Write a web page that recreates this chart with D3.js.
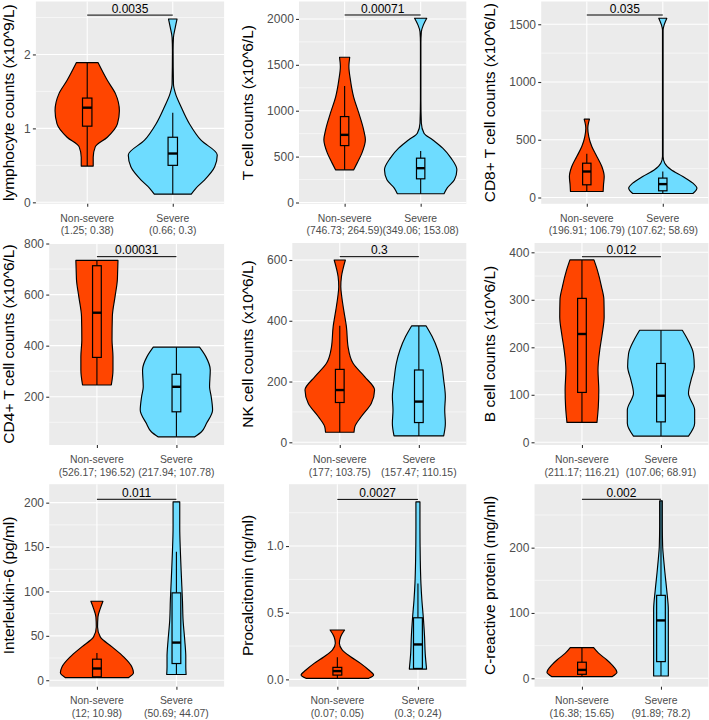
<!DOCTYPE html>
<html><head><meta charset="utf-8">
<script src="https://cdn.jsdelivr.net/npm/d3@7"></script>
<style>
body{margin:0;background:#fff}
svg{display:block}
text{font-family:"Liberation Sans",Arial,Helvetica,sans-serif}
</style>
</head><body>
<svg id="chart" width="709" height="720"></svg>
<script>
// ---------------- data ----------------
const groups = ["Non-severe", "Severe"];
const groupColors = ["#FF4500", "#6EDCFF"];

const yTitles = [
  "lymphocyte counts (x10^9/L)",
  "T cell counts (x10^6/L)",
  "CD8+ T cell counts (x10^6/L)",
  "CD4+ T cell counts (x10^6/L)",
  "NK cell counts (x10^6/L)",
  "B cell counts (x10^6/L)",
  "Interleukin-6 (pg/ml)",
  "Procalcitonin (ng/ml)",
  "C-reactive protein (mg/ml)"
];

const pValues = ["0.0035", "0.00071", "0.035", "0.00031", "0.3", "0.012", "0.011", "0.0027", "0.002"];

const nonSevereStats = ["(1.25; 0.38)", "(746.73; 264.59)", "(196.91; 106.79)", "(526.17; 196.52)", "(177; 103.75)", "(211.17; 116.21)", "(12; 10.98)", "(0.07; 0.05)", "(16.38; 15.65)"];
const severeStats = ["(0.66; 0.3)", "(349.06; 153.08)", "(107.62; 58.69)", "(217.94; 107.78)", "(157.47; 110.15)", "(107.06; 68.91)", "(50.69; 44.07)", "(0.3; 0.24)", "(91.89; 78.2)"];

const yTicks = [
  [0, 1, 2],
  [0, 500, 1000, 1500, 2000],
  [0, 500, 1000, 1500],
  [200, 400, 600, 800],
  [0, 200, 400, 600],
  [0, 100, 200, 300, 400],
  [0, 50, 100, 150, 200],
  [0, 0.5, 1.0],
  [0, 100, 200]
];

const yLimits = [
  [-0.02, 2.716], [-14.2, 2190], [-54.5, 1697],
  [11, 802], [-8.9, 656], [-5.7, 419.6],
  [-7.3, 220.8], [-0.055, 1.464], [-12.9, 297.2]
];

const bracketY = [2.532, 2043, 1580, 748.5, 611, 390.7, 203.8, 1.35, 274.1];

// violin outlines: [value, half-width in category units], top to bottom
const nonSevereViolins = [
  [[1.89,0.126],[1.65,0.235],[1.47,0.33],[1.24,0.376],[1.06,0.353],[0.88,0.235],[0.75,0.094],[0.61,0.07],[0.49,0.07]],
  [[1583,0.067],[1481,0.056],[1336,0.076],[1154,0.117],[973,0.187],[792,0.25],[683,0.273],[538,0.227],[429,0.164],[356,0.12]],
  [[678,0.035],[600,0.013],[528,0.026],[441,0.066],[355,0.132],[268,0.198],[182,0.229],[110,0.22],[52,0.215]],
  [[734,0.265],[684,0.26],[657,0.257],[592,0.228],[514,0.194],[422,0.19],[357,0.202],[305,0.202],[246,0.181]],
  [[600,0.071],[572,0.042],[545,0.021],[512,0.013],[479,0.025],[435,0.05],[380,0.084],[314,0.105],[260,0.168],[216,0.314],[172,0.44],[128,0.398],[84,0.27],[51,0.19],[33,0.18]],
  [[384,0.152],[363,0.194],[328,0.247],[300,0.278],[264,0.281],[229,0.257],[194,0.225],[152,0.203],[110,0.213],[75,0.207],[42,0.19]],
  [[89,0.076],[80.7,0.042],[71.4,0.013],[60,0.008],[48.8,0.042],[37.6,0.19],[26.3,0.336],[15,0.44],[8.3,0.46],[3,0.4]],
  [[0.37,0.09],[0.32,0.041],[0.27,0.025],[0.22,0.062],[0.17,0.165],[0.12,0.288],[0.07,0.39],[0.032,0.45],[0.008,0.39]],
  [[47,0.148],[38.5,0.21],[28,0.316],[17.8,0.4],[9.2,0.443],[2.5,0.38]]
];
const severeViolins = [
  [[2.48,0.05],[2.37,0.03],[2.23,0.008],[2.05,0.004],[1.6,0.008],[1.47,0.032],[1.29,0.098],[1.06,0.196],[0.84,0.33],[0.64,0.52],[0.48,0.49],[0.3,0.37],[0.19,0.27],[0.11,0.216]],
  [[2007,0.08],[1935,0.036],[1862,0.009],[1735,0.003],[1118,0.003],[864,0.009],[755,0.044],[683,0.156],[592,0.29],[483,0.4],[356,0.476],[247,0.444],[157,0.347],[95,0.307]],
  [[1552,0.053],[1494,0.018],[1451,0.004],[355,0.004],[297,0.026],[240,0.11],[182,0.264],[124,0.396],[81,0.449],[35,0.396]],
  [[394,0.291],[357,0.37],[305,0.426],[239,0.417],[200,0.438],[148,0.455],[96,0.379],[63,0.316],[43,0.232]],
  [[383,0.092],[348,0.168],[304,0.239],[260,0.285],[205,0.314],[150,0.335],[106,0.327],[63,0.335],[21,0.314]],
  [[236,0.27],[215,0.342],[187,0.41],[159,0.422],[131,0.38],[103,0.348],[68,0.426],[40,0.426],[13,0.348]],
  [[200.9,0.042],[172.7,0.042],[144.6,0.05],[116.4,0.063],[90,0.076],[67.6,0.084],[45,0.105],[26.3,0.118],[15,0.118],[6.4,0.122]],
  [[1.331,0.025],[1.144,0.025],[0.894,0.029],[0.72,0.037],[0.594,0.049],[0.469,0.066],[0.32,0.082],[0.195,0.09],[0.077,0.107]],
  [[271.7,0.017],[233,0.017],[202.5,0.021],[182,0.034],[161.5,0.05],[135.8,0.072],[105,0.093],[69,0.093],[38.5,0.093],[17.8,0.093],[3.5,0.093]]
];

// boxplot stats: [lower whisker, q1, median, q3, upper whisker]
const nonSevereBoxes = [
  [0.49, 1.03, 1.28, 1.41, 1.89],
  [356, 620, 737, 936, 1270],
  [52, 110, 225, 297, 378],
  [246, 354, 529, 713, 734],
  [33, 131, 172, 240, 384],
  [42, 105, 228, 303, 384],
  [3, 3.8, 13.2, 23.7, 30.8],
  [0.01, 0.032, 0.062, 0.09, 0.165],
  [2.5, 6.1, 12.8, 24.6, 47]
];
const severeBoxes = [
  [0.11, 0.5, 0.66, 0.88, 1.21],
  [95, 258, 374, 483, 562],
  [35, 58, 116, 168, 225],
  [43, 141, 239, 288, 394],
  [21, 65, 134, 238, 383],
  [13, 43, 98, 166, 236],
  [6.4, 18.8, 42.4, 98.4, 144.6],
  [0.077, 0.082, 0.262, 0.462, 0.72],
  [3.5, 25.5, 88.6, 127, 271.7]
];

// ---------------- layout ----------------
const rowTop = [1.5, 243, 484.2];
const rowBottom = [203.8, 445, 686.7];
const colBase = [29.2, 272.3, 514.5];
const colRight = [224.1, 466.3, 708.4];
const titleX = [13.5, 253, 494.6];
const boxHalf = 0.055;

const svg = d3.select("#chart");

function measure(str, size) {
  const t = svg.append("text").attr("font-size", size).text(str);
  const w = t.node().getComputedTextLength();
  t.remove();
  return w;
}

for (let i = 0; i < 9; i++) {
  const r = Math.floor(i / 3), c = i % 3;
  const top = rowTop[r], bottom = rowBottom[r];
  const fmt = i === 7 ? d3.format(".1f") : d3.format("d");
  const labW = d3.max(yTicks[i], t => measure(fmt(t), 12));
  const left = colBase[c] + labW, right = colRight[c];

  const y = d3.scaleLinear().domain(yLimits[i]).range([bottom, top]);
  const x = d3.scaleLinear().domain([0.4, 2.6]).range([left, right]);

  const g = svg.append("g");
  g.append("rect").attr("x", left).attr("y", top).attr("width", right - left).attr("height", bottom - top).attr("fill", "#EBEBEB");

  // minor grid
  const tk = yTicks[i], step = tk[1] - tk[0];
  const minor = [];
  for (let k = -1; k < tk.length; k++) minor.push(tk[0] + step * (k + 0.5));
  const dom = yLimits[i];
  g.selectAll(".minor").data(minor.filter(v => v > dom[0] && v < dom[1])).join("line")
    .attr("x1", left).attr("x2", right).attr("y1", d => y(d)).attr("y2", d => y(d))
    .attr("stroke", "#FFFFFF").attr("stroke-width", 0.55);
  // major grid
  g.selectAll(".major").data(tk).join("line")
    .attr("x1", left).attr("x2", right).attr("y1", d => y(d)).attr("y2", d => y(d))
    .attr("stroke", "#FFFFFF").attr("stroke-width", 1.1);
  g.selectAll(".vmajor").data([1, 2]).join("line")
    .attr("x1", d => x(d)).attr("x2", d => x(d)).attr("y1", top).attr("y2", bottom)
    .attr("stroke", "#FFFFFF").attr("stroke-width", 1.1);

  // violins and boxes
  const violins = [nonSevereViolins[i], severeViolins[i]];
  const boxes = [nonSevereBoxes[i], severeBoxes[i]];
  [0, 1].forEach(k => {
    const pos = k + 1;
    const area = d3.area().curve(d3.curveMonotoneY)
      .y(d => y(d[0])).x0(d => x(pos - d[1])).x1(d => x(pos + d[1]));
    g.append("path").attr("d", area(violins[k]))
      .attr("fill", groupColors[k]).attr("stroke", "#000").attr("stroke-width", 1.15).attr("stroke-linejoin", "round");
    const b = boxes[k];
    g.append("line").attr("x1", x(pos)).attr("x2", x(pos)).attr("y1", y(b[0])).attr("y2", y(b[1]))
      .attr("stroke", "#000").attr("stroke-width", 1.1);
    g.append("line").attr("x1", x(pos)).attr("x2", x(pos)).attr("y1", y(b[3])).attr("y2", y(b[4]))
      .attr("stroke", "#000").attr("stroke-width", 1.1);
    g.append("rect").attr("x", x(pos - boxHalf)).attr("width", x(pos + boxHalf) - x(pos - boxHalf))
      .attr("y", y(b[3])).attr("height", y(b[1]) - y(b[3]))
      .attr("fill", groupColors[k]).attr("stroke", "#000").attr("stroke-width", 1.2);
    g.append("line").attr("x1", x(pos - boxHalf)).attr("x2", x(pos + boxHalf)).attr("y1", y(b[2])).attr("y2", y(b[2]))
      .attr("stroke", "#000").attr("stroke-width", 2.4);
  });

  // significance bracket
  g.append("line").attr("x1", x(1)).attr("x2", x(2)).attr("y1", y(bracketY[i])).attr("y2", y(bracketY[i]))
    .attr("stroke", "#000").attr("stroke-width", 1);
  g.append("text").attr("x", (x(1) + x(2)) / 2).attr("y", y(bracketY[i]) - 2.3)
    .attr("text-anchor", "middle").attr("font-size", 12).attr("fill", "#000").text(pValues[i]);

  // y axis
  const ya = g.append("g").attr("transform", `translate(${left},0)`)
    .call(d3.axisLeft(y).tickValues(tk).tickFormat(fmt).tickSize(3).tickPadding(2.2));
  ya.select(".domain").remove();
  ya.selectAll(".tick line").attr("stroke", "#333333").attr("stroke-width", 1.1);
  ya.selectAll(".tick text").attr("font-size", 12).attr("fill", "#4D4D4D")
    .attr("font-family", '"Liberation Sans",Arial,sans-serif');

  // x axis
  const xa = g.append("g").attr("transform", `translate(0,${bottom})`)
    .call(d3.axisBottom(x).tickValues([1, 2]).tickFormat("").tickSize(3));
  xa.select(".domain").remove();
  xa.selectAll(".tick line").attr("stroke", "#333333").attr("stroke-width", 1.1);
  const stats = [nonSevereStats[i], severeStats[i]];
  groups.forEach((gname, k) => {
    g.append("text").attr("x", x(k + 1)).attr("y", bottom + 14 + 3.7)
      .attr("text-anchor", "middle").attr("font-size", 10.4).attr("fill", "#4D4D4D").text(gname);
    g.append("text").attr("x", x(k + 1)).attr("y", bottom + 26.8 + 3.7)
      .attr("text-anchor", "middle").attr("font-size", 10.4).attr("fill", "#4D4D4D").text(stats[k]);
  });

  // y title
  g.append("text").attr("transform", `translate(${titleX[c]},${(top + bottom) / 2}) rotate(-90)`)
    .attr("text-anchor", "middle").attr("font-size", 15.5).attr("fill", "#000").text(yTitles[i]);
}
</script>
</body></html>
